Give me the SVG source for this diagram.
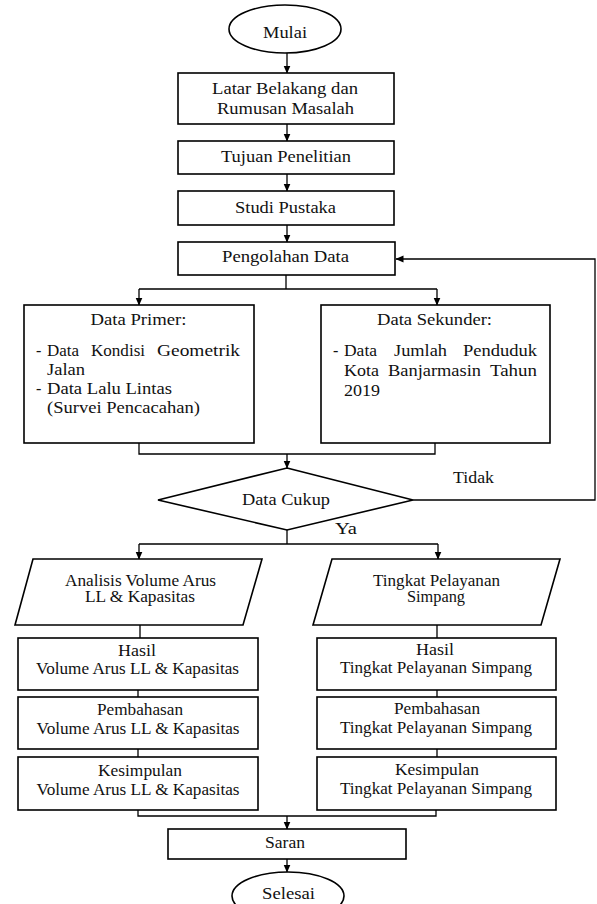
<svg xmlns="http://www.w3.org/2000/svg" width="597" height="904" viewBox="0 0 597 904">
<style>
.n{fill:#fff;stroke:#000;stroke-width:1.6}
.c{fill:none;stroke:#000;stroke-width:1.3}
.a{fill:none;stroke:#000;stroke-width:1.3;marker-end:url(#ah)}
text{font-family:"Liberation Serif","Times New Roman",serif;font-size:16px;fill:#111;text-anchor:middle}
.l{text-anchor:start}
</style>
<defs>
<marker id="ah" markerUnits="userSpaceOnUse" markerWidth="8" markerHeight="8" refX="7.5" refY="3.5" orient="auto">
<path d="M0,0 L8,3.5 L0,7 z" fill="#000"/>
</marker>
</defs>
<rect x="0" y="0" width="597" height="904" fill="#fff"/>

<g id="connectors">
<path class="a" d="M287,53 V73"/>
<path class="a" d="M287,124 V141"/>
<path class="a" d="M287,174 V191"/>
<path class="a" d="M287,225 V242"/>
<path class="c" d="M286,275 V289 M139,289 H437"/>
<path class="a" d="M139,289 V305"/>
<path class="a" d="M437,289 V305"/>
<path class="c" d="M139,443 V454 H435 V443"/>
<path class="a" d="M287,454 V468"/>
<path class="a" d="M413,500 H595 V259 H396"/>
<path class="c" d="M287,530 V544 M139,544 H438"/>
<path class="a" d="M139,544 V559"/>
<path class="a" d="M438,544 V559"/>
<path class="c" d="M140,625 V638 M437,625 V638"/>
<path class="c" d="M138,690 V697 M437,690 V697"/>
<path class="c" d="M138,749 V757 M437,749 V757"/>
<path class="c" d="M138,810 V816 H436 V810"/>
<path class="a" d="M287,816 V829"/>
<path class="a" d="M287,859 V872"/>
<text x="473.5" y="483" textLength="41" lengthAdjust="spacingAndGlyphs">Tidak</text>
<text x="346" y="534" textLength="22" lengthAdjust="spacingAndGlyphs">Ya</text>
</g>

<g id="mulai">
<ellipse class="n" cx="285" cy="29" rx="56" ry="24"/>
<text x="285" y="38" textLength="44" lengthAdjust="spacingAndGlyphs">Mulai</text>
</g>

<g id="latar">
<rect class="n" x="178" y="73" width="216" height="51"/>
<text x="285" y="94" textLength="146" lengthAdjust="spacingAndGlyphs">Latar Belakang dan</text>
<text x="285.5" y="114" textLength="137" lengthAdjust="spacingAndGlyphs">Rumusan Masalah</text>
</g>

<g id="tujuan">
<rect class="n" x="178" y="141" width="216" height="33"/>
<text x="286" y="162" textLength="130" lengthAdjust="spacingAndGlyphs">Tujuan Penelitian</text>
</g>

<g id="studi">
<rect class="n" x="178" y="191" width="216" height="34"/>
<text x="285.5" y="213" textLength="101" lengthAdjust="spacingAndGlyphs">Studi Pustaka</text>
</g>

<g id="pengolahan">
<rect class="n" x="178" y="242" width="217" height="33"/>
<text x="285.5" y="262" textLength="127" lengthAdjust="spacingAndGlyphs">Pengolahan Data</text>
</g>

<g id="primer">
<rect class="n" x="24" y="305" width="230" height="138"/>
<text x="138.5" y="325" textLength="96" lengthAdjust="spacingAndGlyphs">Data Primer:</text>
<text class="l" y="356"><tspan x="36">-</tspan><tspan x="47" textLength="32" lengthAdjust="spacingAndGlyphs">Data</tspan><tspan x="91" textLength="54" lengthAdjust="spacingAndGlyphs">Kondisi</tspan><tspan x="157" textLength="83" lengthAdjust="spacingAndGlyphs">Geometrik</tspan></text>
<text class="l" x="47" y="375" textLength="38" lengthAdjust="spacingAndGlyphs">Jalan</text>
<text class="l" y="394"><tspan x="36">-</tspan><tspan x="47" textLength="125" lengthAdjust="spacingAndGlyphs">Data Lalu Lintas</tspan></text>
<text class="l" x="47" y="413" textLength="153" lengthAdjust="spacingAndGlyphs">(Survei Pencacahan)</text>
</g>

<g id="sekunder">
<rect class="n" x="321" y="305" width="229" height="138"/>
<text x="434.5" y="325" textLength="115" lengthAdjust="spacingAndGlyphs">Data Sekunder:</text>
<text class="l" y="356"><tspan x="333">-</tspan><tspan x="344" textLength="33" lengthAdjust="spacingAndGlyphs">Data</tspan><tspan x="394" textLength="53" lengthAdjust="spacingAndGlyphs">Jumlah</tspan><tspan x="463" textLength="74" lengthAdjust="spacingAndGlyphs">Penduduk</tspan></text>
<text class="l" y="376"><tspan x="344" textLength="35" lengthAdjust="spacingAndGlyphs">Kota</tspan><tspan x="388" textLength="93" lengthAdjust="spacingAndGlyphs">Banjarmasin</tspan><tspan x="490" textLength="47" lengthAdjust="spacingAndGlyphs">Tahun</tspan></text>
<text class="l" x="344" y="396" textLength="36" lengthAdjust="spacingAndGlyphs">2019</text>
</g>

<g id="cukup">
<polygon class="n" points="287,468 413,500 287,530 158,500"/>
<text x="286" y="505" textLength="88" lengthAdjust="spacingAndGlyphs">Data Cukup</text>
</g>

<g id="analisis">
<polygon class="n" points="33,559 262,559 243,625 15,625"/>
<text x="140.5" y="586" textLength="151" lengthAdjust="spacingAndGlyphs">Analisis Volume Arus</text>
<text x="140" y="602" textLength="110" lengthAdjust="spacingAndGlyphs">LL &amp; Kapasitas</text>
</g>

<g id="tingkat">
<polygon class="n" points="332,559 560,559 541,625 313,625"/>
<text x="436.5" y="586" textLength="127" lengthAdjust="spacingAndGlyphs">Tingkat Pelayanan</text>
<text x="436" y="602" textLength="58" lengthAdjust="spacingAndGlyphs">Simpang</text>
</g>

<g id="hasil-volume">
<rect class="n" x="18" y="638" width="240" height="52"/>
<text x="137" y="656" textLength="38" lengthAdjust="spacingAndGlyphs">Hasil</text>
<text x="137.5" y="674" textLength="203" lengthAdjust="spacingAndGlyphs">Volume Arus LL &amp; Kapasitas</text>
</g>

<g id="pembahasan-volume">
<rect class="n" x="18" y="697" width="240" height="52"/>
<text x="140" y="715" textLength="86" lengthAdjust="spacingAndGlyphs">Pembahasan</text>
<text x="138" y="734" textLength="203" lengthAdjust="spacingAndGlyphs">Volume Arus LL &amp; Kapasitas</text>
</g>

<g id="kesimpulan-volume">
<rect class="n" x="18" y="757" width="240" height="53"/>
<text x="140" y="776" textLength="84" lengthAdjust="spacingAndGlyphs">Kesimpulan</text>
<text x="138" y="795" textLength="203" lengthAdjust="spacingAndGlyphs">Volume Arus LL &amp; Kapasitas</text>
</g>

<g id="hasil-tingkat">
<rect class="n" x="317" y="638" width="239" height="52"/>
<text x="435" y="655" textLength="38" lengthAdjust="spacingAndGlyphs">Hasil</text>
<text x="436" y="673" textLength="192" lengthAdjust="spacingAndGlyphs">Tingkat Pelayanan Simpang</text>
</g>

<g id="pembahasan-tingkat">
<rect class="n" x="317" y="697" width="239" height="52"/>
<text x="437" y="714" textLength="86" lengthAdjust="spacingAndGlyphs">Pembahasan</text>
<text x="436" y="733" textLength="192" lengthAdjust="spacingAndGlyphs">Tingkat Pelayanan Simpang</text>
</g>

<g id="kesimpulan-tingkat">
<rect class="n" x="317" y="757" width="239" height="53"/>
<text x="437" y="775" textLength="84" lengthAdjust="spacingAndGlyphs">Kesimpulan</text>
<text x="436" y="794" textLength="192" lengthAdjust="spacingAndGlyphs">Tingkat Pelayanan Simpang</text>
</g>

<g id="saran">
<rect class="n" x="168" y="829" width="238" height="30"/>
<text x="285" y="848" textLength="40" lengthAdjust="spacingAndGlyphs">Saran</text>
</g>

<g id="selesai">
<ellipse class="n" cx="288" cy="896" rx="56" ry="24"/>
<text x="288.5" y="899" textLength="53" lengthAdjust="spacingAndGlyphs">Selesai</text>
</g>
</svg>
